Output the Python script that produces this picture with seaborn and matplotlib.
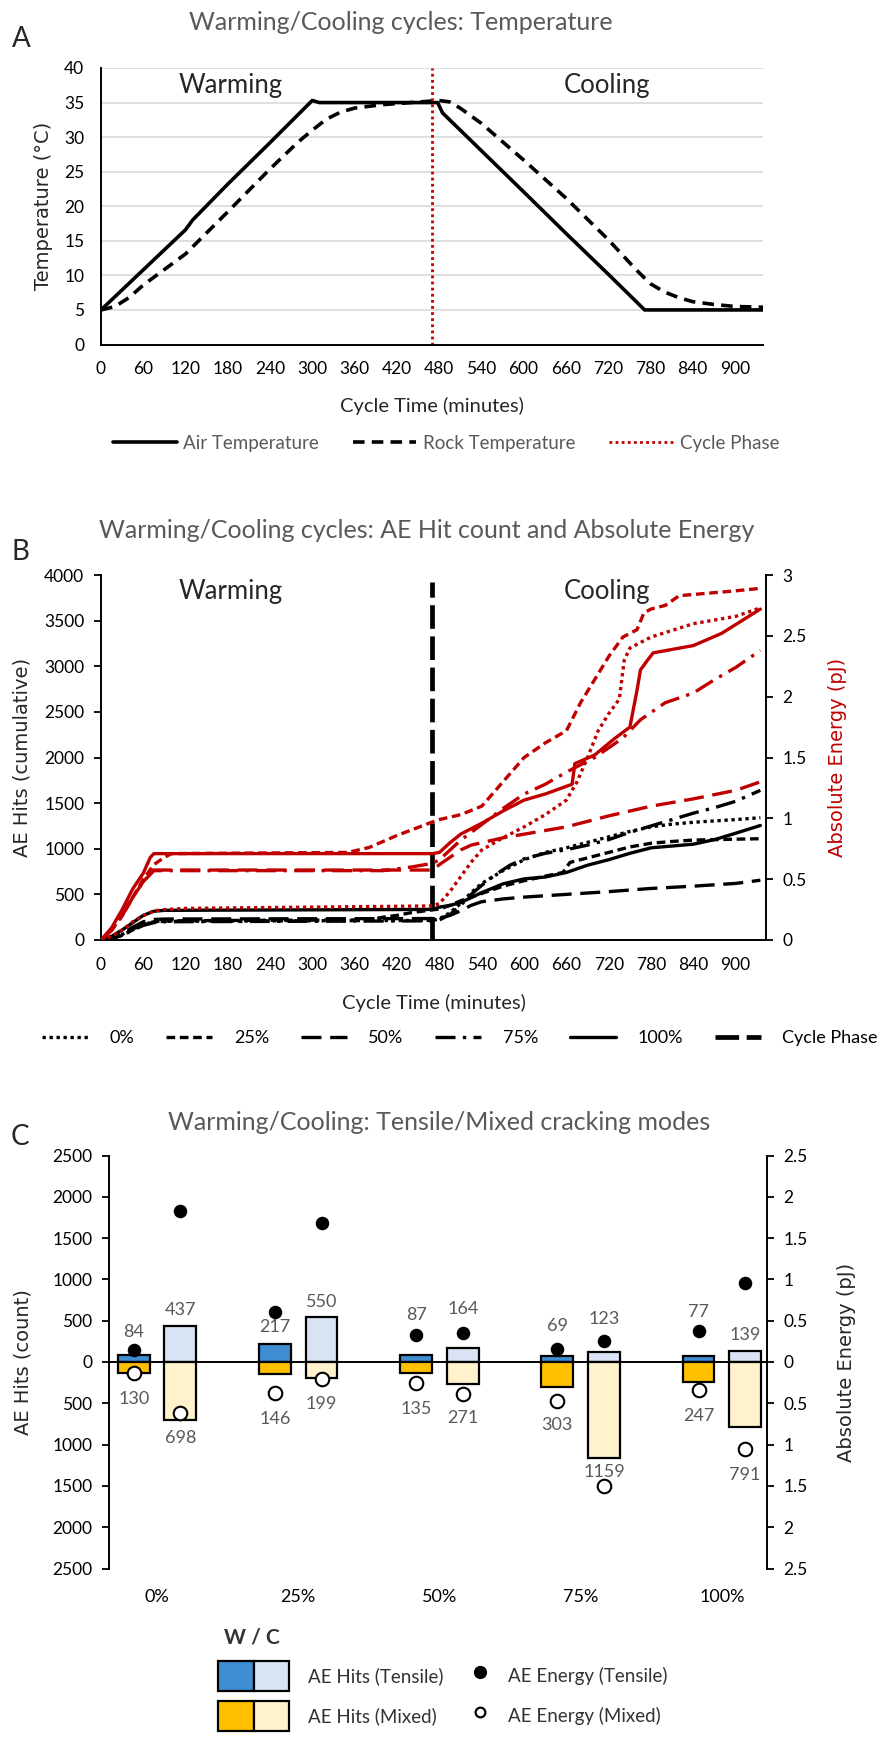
import numpy as np
import pandas as pd
import matplotlib
matplotlib.use("Agg")
import matplotlib.pyplot as plt
import seaborn as sns
from matplotlib.patches import Patch
from matplotlib.lines import Line2D
from matplotlib.legend_handler import HandlerTuple
from matplotlib.ticker import FuncFormatter

# ======================= DATA =======================
# Panel A : temperature cycle
air_time = [0, 60, 120, 130, 180, 240, 300, 310, 478, 485, 600, 660, 720, 772, 940]
air_temp = [5, 10.8, 16.6, 18.0, 23.2, 29.2, 35.3, 35.0, 35.0, 33.5, 22.1, 16.1, 10.2, 5.0, 5.0]
rock_time = [0, 20, 40, 60, 120, 180, 240, 280, 300, 320, 340, 360, 400, 440, 480, 495, 510,
             540, 600, 660, 720, 760, 780, 800, 820, 840, 870, 900, 940]
rock_temp = [5, 5.5, 6.8, 8.6, 13.1, 19.2, 25.4, 29.3, 31.0, 32.6, 33.6, 34.2, 34.7, 35.0, 35.3,
             35.1, 34.2, 32.0, 26.7, 21.2, 15.2, 10.8, 8.8, 7.6, 6.8, 6.2, 5.8, 5.5, 5.4]
phase_time = 470          # warming -> cooling switch (minutes)
phase_top_hits = 3920     # top of the phase marker in panel B

# Panel B : cumulative AE hits (left axis)
hits_0_t = [0, 15, 30, 45, 60, 75, 90, 200, 470, 480, 495, 510, 525, 540, 570, 600, 630, 660, 690,
            720, 750, 780, 810, 840, 870, 900, 935]
hits_0_v = [0, 20, 60, 120, 170, 200, 205, 208, 215, 230, 300, 400, 520, 620, 760, 880, 960, 1010,
            1070, 1130, 1190, 1240, 1270, 1290, 1305, 1320, 1340]
hits_25_t = [0, 15, 30, 45, 60, 75, 90, 200, 380, 400, 420, 440, 470, 480, 495, 510, 540, 570, 600,
             630, 655, 665, 690, 720, 750, 780, 810, 840, 870, 900, 935]
hits_25_v = [0, 15, 50, 110, 170, 200, 210, 215, 220, 250, 270, 300, 330, 340, 380, 430, 510, 590,
             650, 700, 740, 850, 900, 960, 1020, 1060, 1080, 1095, 1100, 1105, 1110]
hits_50_t = [0, 15, 30, 45, 60, 75, 90, 470, 480, 495, 510, 525, 540, 570, 600, 660, 720, 780, 840,
             900, 935]
hits_50_v = [0, 20, 70, 140, 200, 225, 230, 235, 240, 270, 320, 380, 420, 450, 470, 500, 530, 565,
             590, 620, 655]
hits_75_t = [0, 15, 30, 45, 60, 75, 90, 470, 480, 495, 510, 525, 540, 560, 580, 600, 630, 660, 690,
             720, 750, 780, 810, 840, 870, 900, 935]
hits_75_v = [0, 15, 50, 110, 160, 190, 200, 210, 220, 280, 380, 500, 600, 720, 820, 890, 950, 990,
             1040, 1100, 1180, 1250, 1320, 1390, 1450, 1520, 1640]
hits_100_t = [0, 15, 30, 45, 60, 75, 90, 470, 480, 495, 510, 540, 570, 600, 630, 660, 690, 720,
              750, 780, 810, 840, 870, 900, 935]
hits_100_v = [0, 40, 110, 190, 270, 315, 325, 335, 360, 380, 410, 520, 615, 670, 690, 740, 820,
              880, 950, 1010, 1030, 1050, 1100, 1170, 1255]

# Panel B : cumulative absolute energy (right axis, pJ)
e_0_t = [0, 15, 30, 45, 60, 75, 90, 120, 470, 480, 495, 510, 525, 540, 570, 600, 630, 660, 675,
         690, 705, 720, 735, 742, 750, 780, 840, 900, 935]
e_0_v = [0, 0.03, 0.08, 0.15, 0.2, 0.24, 0.25, 0.26, 0.28, 0.3, 0.4, 0.52, 0.64, 0.74, 0.84, 0.93,
         1.03, 1.15, 1.3, 1.5, 1.72, 1.86, 1.98, 2.3, 2.4, 2.49, 2.6, 2.66, 2.73]
e_25_t = [0, 15, 30, 45, 60, 75, 90, 100, 350, 380, 420, 470, 480, 510, 540, 570, 600, 630, 660,
          680, 700, 720, 740, 760, 770, 780, 800, 820, 840, 900, 935]
e_25_v = [0, 0.08, 0.2, 0.35, 0.5, 0.62, 0.68, 0.71, 0.72, 0.76, 0.86, 0.97, 0.99, 1.03, 1.1, 1.3,
          1.5, 1.62, 1.72, 1.95, 2.14, 2.33, 2.49, 2.55, 2.69, 2.72, 2.75, 2.83, 2.84, 2.87, 2.89]
e_50_t = [0, 15, 30, 45, 60, 75, 470, 480, 495, 510, 525, 540, 570, 600, 630, 660, 720, 780, 840,
          900, 935]
e_50_v = [0, 0.08, 0.2, 0.35, 0.48, 0.575, 0.575, 0.62, 0.68, 0.74, 0.78, 0.8, 0.84, 0.87, 0.9,
          0.93, 1.02, 1.1, 1.16, 1.23, 1.3]
e_75_t = [0, 15, 30, 45, 60, 75, 400, 440, 470, 480, 495, 510, 540, 570, 600, 630, 660, 700, 740,
          765, 800, 840, 870, 900, 935]
e_75_v = [0, 0.08, 0.2, 0.35, 0.48, 0.57, 0.57, 0.6, 0.63, 0.66, 0.74, 0.82, 0.95, 1.08, 1.2, 1.28,
          1.38, 1.5, 1.66, 1.81, 1.95, 2.03, 2.14, 2.24, 2.38]
e_100_t = [0, 15, 30, 45, 60, 70, 75, 470, 480, 495, 510, 540, 570, 600, 630, 668, 672, 700, 727,
           750, 755, 760, 765, 775, 783, 840, 880, 935]
e_100_v = [0, 0.1, 0.25, 0.42, 0.55, 0.68, 0.71, 0.71, 0.72, 0.8, 0.87, 0.96, 1.06, 1.15, 1.2, 1.28,
           1.45, 1.52, 1.65, 1.75, 1.9, 2.05, 2.22, 2.3, 2.36, 2.42, 2.52, 2.72]

# Panel C : cracking modes (W = warming, C = cooling)
treatments = ["0%", "25%", "50%", "75%", "100%"]
tensile_hits_W = [84, 217, 87, 69, 77]
tensile_hits_C = [437, 550, 164, 123, 139]
mixed_hits_W = [130, 146, 135, 303, 247]
mixed_hits_C = [698, 199, 271, 1159, 791]
tensile_energy_W = [0.15, 0.60, 0.33, 0.16, 0.37]
tensile_energy_C = [1.83, 1.68, 0.35, 0.25, 0.96]
mixed_energy_W = [0.13, 0.37, 0.25, 0.47, 0.34]
mixed_energy_C = [0.62, 0.21, 0.39, 1.50, 1.05]

# ======================= LAYOUT / STYLE =======================
# value-label heights (in hit units) for panel C annotations
lab_y_tW = [358, 420, 572, 440, 605]
lab_y_tC = [626, 729, 638, 523, 325]
lab_y_mW = [-445, -692, -568, -766, -659]
lab_y_mC = [-918, -507, -684, -1330, -1371]

RED = "#C00000"
GRAY = "#595959"
BLUE, LBLUE = "#3F8ED2", "#DAE3F3"
ORANGE, LORANGE = "#FFC000", "#FFF2CC"

sns.set_style("white")
plt.rcParams["font.family"] = ["Lato", "DejaVu Sans"]
plt.rcParams["axes.unicode_minus"] = False

W_PX, H_PX, DPI = 877, 1741, 100
fig = plt.figure(figsize=(W_PX / DPI, H_PX / DPI), dpi=DPI)


def fx(px):
    return px / W_PX


def fy(py):
    return 1 - py / H_PX


def add_axes(l, r, t, b):
    return fig.add_axes([fx(l), fy(b), (r - l) / W_PX, (b - t) / H_PX])


def style_axis(ax, labelsize=12.5):
    ax.tick_params(axis="both", which="major", direction="out", length=5, width=1.3,
                   colors="black", labelsize=labelsize, pad=7)
    for s in ax.spines.values():
        s.set_linewidth(1.4)
        s.set_color("black")


YFONT = dict(fontfamily="DejaVu Sans", fontsize=14)

# ======================= PANEL A =======================
axA = add_axes(101, 763, 68, 344.5)
sns.lineplot(x=air_time, y=air_temp, ax=axA, color="black", linewidth=2.6,
             estimator=None, sort=False, legend=False, label="Air Temperature")
sns.lineplot(x=rock_time, y=rock_temp, ax=axA, color="black", linewidth=2.6,
             linestyle=(0, (3.2, 2.0)), estimator=None, sort=False, legend=False,
             label="Rock Temperature")
axA.axvline(phase_time, color=RED, linewidth=2.0, linestyle=(0, (1, 1.2)), label="Cycle Phase")
axA.set_xlim(0, 940)
axA.set_ylim(0, 40)
axA.set_xticks(np.arange(0, 901, 60))
axA.set_yticks(np.arange(0, 41, 5))
axA.yaxis.grid(True, color="#D9D9D9", linewidth=1.2)
axA.set_axisbelow(True)
style_axis(axA)
axA.spines["top"].set_visible(False)
axA.spines["right"].set_visible(False)
axA.set_ylabel("Temperature (°C)", **YFONT)
axA.yaxis.set_label_coords(-0.072, 0.5)
axA.set_xlabel("Cycle Time (minutes)", fontsize=14.5)
axA.xaxis.set_label_coords(0.5, -0.19)
axA.text(184, 37.4, "Warming", fontsize=18.5, ha="center", va="center")
axA.text(718, 37.4, "Cooling", fontsize=18.5, ha="center", va="center")

hA, lA = axA.get_legend_handles_labels()
fig.legend(hA, lA, loc="center", bbox_to_anchor=(fx(446), fy(443)), ncol=3, frameon=False,
           fontsize=13.5, handlelength=3.4, handletextpad=0.35, columnspacing=1.8,
           labelcolor=GRAY, borderpad=0, borderaxespad=0)

fig.text(fx(401), fy(22), "Warming/Cooling cycles: Temperature", fontsize=18, color=GRAY,
         ha="center", va="center")
fig.text(fx(21), fy(39), "A", fontsize=20, ha="center", va="center")

# ======================= PANEL B =======================
axB = add_axes(101, 766, 575, 940)
axB2 = axB.twinx()
dash = {"0%": (0, (1, 1.1)), "25%": (0, (2.6, 1.4)), "50%": (0, (6, 2.6)),
        "75%": (0, (6, 2.2, 1, 2.2)), "100%": "-"}
hit_series = [("0%", hits_0_t, hits_0_v), ("25%", hits_25_t, hits_25_v),
              ("50%", hits_50_t, hits_50_v), ("75%", hits_75_t, hits_75_v),
              ("100%", hits_100_t, hits_100_v)]
energy_series = [("0%", e_0_t, e_0_v), ("25%", e_25_t, e_25_v), ("50%", e_50_t, e_50_v),
                 ("75%", e_75_t, e_75_v), ("100%", e_100_t, e_100_v)]
for name, t, v in hit_series:
    sns.lineplot(x=t, y=v, ax=axB, color="black", linewidth=2.4, linestyle=dash[name],
                 estimator=None, sort=False, legend=False, label=name)
for name, t, v in energy_series:
    sns.lineplot(x=t, y=v, ax=axB2, color=RED, linewidth=2.4, linestyle=dash[name],
                 estimator=None, sort=False, legend=False)
axB.vlines(phase_time, 0, phase_top_hits, color="black", linewidth=3.4,
           linestyle=(0, (5, 1.6)), label="Cycle Phase")
axB.set_xlim(0, 943)
axB.set_ylim(0, 4000)
axB2.set_ylim(0, 3)
axB.set_xticks(np.arange(0, 901, 60))
axB.set_yticks(np.arange(0, 4001, 500))
axB2.set_yticks(np.arange(0, 3.01, 0.5))
axB2.yaxis.set_major_formatter(FuncFormatter(lambda v, _: f"{v:g}"))
style_axis(axB)
style_axis(axB2)
for s in ["top", "right"]:
    axB.spines[s].set_visible(False)
for s in ["top", "left", "bottom"]:
    axB2.spines[s].set_visible(False)
axB.set_ylabel("AE Hits (cumulative)", **YFONT)
axB.yaxis.set_label_coords(-0.104, 0.5)
axB2.set_ylabel("Absolute Energy (pJ)", color=RED, **YFONT)
axB2.yaxis.set_label_coords(1.093, 0.5)
axB.set_xlabel("Cycle Time (minutes)", fontsize=14.5)
axB.xaxis.set_label_coords(0.5, -0.148)
axB.text(184, 3820, "Warming", fontsize=18.5, ha="center", va="center")
axB.text(718, 3820, "Cooling", fontsize=18.5, ha="center", va="center")

hB, lB = axB.get_legend_handles_labels()
fig.legend(hB, lB, loc="center left", bbox_to_anchor=(fx(42), fy(1038)), ncol=6, frameon=False,
           fontsize=13, handlelength=2.55, handletextpad=1.2, columnspacing=1.75,
           labelcolor="black", borderpad=0, borderaxespad=0)

fig.text(fx(427), fy(530), "Warming/Cooling cycles: AE Hit count and Absolute Energy",
         fontsize=18, color=GRAY, ha="center", va="center")
fig.text(fx(20), fy(552), "B", fontsize=20, ha="center", va="center")

# ======================= PANEL C =======================
axC = add_axes(109, 767, 1155.5, 1568.5)
df_t = pd.DataFrame({"treatment": treatments * 2, "phase": ["W"] * 5 + ["C"] * 5,
                     "hits": tensile_hits_W + tensile_hits_C})
df_m = pd.DataFrame({"treatment": treatments * 2, "phase": ["W"] * 5 + ["C"] * 5,
                     "hits": [-v for v in mixed_hits_W + mixed_hits_C]})
bar_kw = dict(x="treatment", y="hits", hue="phase", hue_order=["W", "C"], order=treatments,
              width=0.66, gap=0.32, edgecolor="black", linewidth=1.6, errorbar=None,
              legend=False, saturation=1, ax=axC)
sns.barplot(data=df_t, palette={"W": BLUE, "C": LBLUE}, **bar_kw)
sns.barplot(data=df_m, palette={"W": ORANGE, "C": LORANGE}, **bar_kw)
axC.axhline(0, color="black", linewidth=1.4, zorder=5)

off = 0.165
pos = np.arange(len(treatments))
for i in range(len(treatments)):
    axC.text(pos[i] - off, lab_y_tW[i], f"{tensile_hits_W[i]}", color=GRAY, fontsize=13,
             ha="center", va="center")
    axC.text(pos[i] + off, lab_y_tC[i], f"{tensile_hits_C[i]}", color=GRAY, fontsize=13,
             ha="center", va="center")
    axC.text(pos[i] - off, lab_y_mW[i], f"{mixed_hits_W[i]}", color=GRAY, fontsize=13,
             ha="center", va="center")
    axC.text(pos[i] + off, lab_y_mC[i], f"{mixed_hits_C[i]}", color=GRAY, fontsize=13,
             ha="center", va="center")

axC2 = axC.twinx()
dot_s = 95
sns.scatterplot(x=pos - off, y=tensile_energy_W, ax=axC2, color="black", s=dot_s, linewidth=0,
                legend=False)
sns.scatterplot(x=pos + off, y=tensile_energy_C, ax=axC2, color="black", s=dot_s, linewidth=0,
                legend=False)
sns.scatterplot(x=pos - off, y=-np.array(mixed_energy_W), ax=axC2, color="white",
                edgecolor="black", s=dot_s, linewidth=1.5, legend=False)
sns.scatterplot(x=pos + off, y=-np.array(mixed_energy_C), ax=axC2, color="white",
                edgecolor="black", s=dot_s, linewidth=1.5, legend=False)

axC.set_ylim(-2500, 2500)
axC2.set_ylim(-2.5, 2.5)
axC.set_yticks(np.arange(-2500, 2501, 500))
axC2.set_yticks(np.arange(-2.5, 2.51, 0.5))
axC.yaxis.set_major_formatter(FuncFormatter(lambda v, _: f"{abs(v):.0f}"))
axC2.yaxis.set_major_formatter(FuncFormatter(lambda v, _: f"{abs(v):g}"))
axC.set_xlim(-0.34, 4.32)
style_axis(axC)
style_axis(axC2)
axC.tick_params(axis="x", length=0, pad=15, labelsize=13)
for s in ["top", "right", "bottom"]:
    axC.spines[s].set_visible(False)
for s in ["top", "left", "bottom"]:
    axC2.spines[s].set_visible(False)
axC.set_xlabel("")
axC.set_ylabel("AE Hits (count)", **YFONT)
axC.yaxis.set_label_coords(-0.117, 0.5)
axC2.set_ylabel("Absolute Energy (pJ)", **YFONT)
axC2.yaxis.set_label_coords(1.107, 0.5)

fig.text(fx(439), fy(1123), "Warming/Cooling: Tensile/Mixed cracking modes", fontsize=18,
         color=GRAY, ha="center", va="center")
fig.text(fx(20), fy(1137), "C", fontsize=20, ha="center", va="center")

# legend for panel C
LEGC = "#333333"
hits_handles = [(Patch(facecolor=BLUE, edgecolor="black", linewidth=1.6),
                 Patch(facecolor=LBLUE, edgecolor="black", linewidth=1.6)),
                (Patch(facecolor=ORANGE, edgecolor="black", linewidth=1.6),
                 Patch(facecolor=LORANGE, edgecolor="black", linewidth=1.6))]
fig.legend(hits_handles, ["AE Hits (Tensile)", "AE Hits (Mixed)"],
           handler_map={tuple: HandlerTuple(ndivide=None, pad=0)},
           loc="center left", bbox_to_anchor=(fx(218), fy(1696)), frameon=False,
           fontsize=13.5, handlelength=3.8, handleheight=2.05, handletextpad=1.0,
           labelspacing=0.55, labelcolor=LEGC, borderpad=0, borderaxespad=0)
energy_handles = [Line2D([], [], linestyle="none", marker="o", markersize=8.5,
                         markerfacecolor="black", markeredgecolor="black"),
                  Line2D([], [], linestyle="none", marker="o", markersize=7,
                         markerfacecolor="white", markeredgecolor="black", markeredgewidth=1.6)]
fig.legend(energy_handles, ["AE Energy (Tensile)", "AE Energy (Mixed)"],
           loc="center left", bbox_to_anchor=(fx(471), fy(1696)), frameon=False,
           fontsize=13.5, handlelength=1.0, handleheight=2.05, handletextpad=1.0,
           labelspacing=0.55, labelcolor=LEGC, borderpad=0, borderaxespad=0)
fig.text(fx(252), fy(1637), "W / C", fontsize=15, fontweight="bold", color=LEGC,
         ha="center", va="center")

fig.savefig("out.png", dpi=DPI)
